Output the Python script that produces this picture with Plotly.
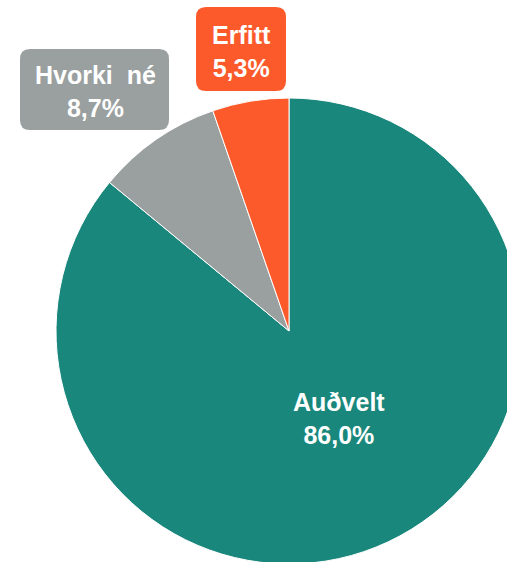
import plotly.graph_objects as go

labels = ["Auðvelt", "Hvorki\u00a0 né", "Erfitt"]
values = [86.0, 8.7, 5.3]
colors = ["#19877B", "#9A9F9F", "#FD5A2B"]

FW, FH = 530, 570
L, T, S = 56, 98, 466  # plot area left, top, size


def px(x):
    return (x - L) / S


def py(y):
    return 1 - (y - T) / S


def fmt(v):
    return f"{v:.1f}".replace(".", ",") + "%"


fig = go.Figure(
    go.Pie(
        labels=labels,
        values=values,
        marker=dict(colors=colors, line=dict(color="white", width=1)),
        sort=False,
        direction="clockwise",
        rotation=0,
        textinfo="none",
        hoverinfo="label+percent",
        showlegend=False,
    )
)


def rounded_box(x0, y0, x1, y1, r):
    return (
        f"M {px(x0 + r)} {py(y0)} L {px(x1 - r)} {py(y0)} "
        f"Q {px(x1)} {py(y0)} {px(x1)} {py(y0 + r)} "
        f"L {px(x1)} {py(y1 - r)} "
        f"Q {px(x1)} {py(y1)} {px(x1 - r)} {py(y1)} "
        f"L {px(x0 + r)} {py(y1)} "
        f"Q {px(x0)} {py(y1)} {px(x0)} {py(y1 - r)} "
        f"L {px(x0)} {py(y0 + r)} "
        f"Q {px(x0)} {py(y0)} {px(x0 + r)} {py(y0)} Z"
    )


boxes = {
    1: (20, 49, 169, 130, (95, 91)),
    2: (196, 7, 286, 91, (241.5, 51)),
}

FONT = dict(family="Liberation Sans, Arial", size=25, color="white")

for i, (x0, y0, x1, y1, (cx, cy)) in boxes.items():
    fig.add_shape(
        type="path",
        xref="paper",
        yref="paper",
        path=rounded_box(x0, y0, x1, y1, 10),
        fillcolor=colors[i],
        line=dict(width=0),
        layer="above",
    )
    fig.add_annotation(
        xref="paper", yref="paper", x=px(cx), y=py(cy),
        text=f"<b>{labels[i]}<br>{fmt(values[i])}</b>",
        showarrow=False, xanchor="center", yanchor="middle",
        font=FONT,
    )

fig.add_annotation(
    xref="paper", yref="paper", x=px(339), y=py(418),
    text=f"<b>{labels[0]}<br>{fmt(values[0])}</b>",
    showarrow=False, xanchor="center", yanchor="middle",
    font=FONT,
)

fig.update_layout(
    width=FW,
    height=FH,
    margin=dict(l=L, r=FW - L - S, t=T, b=FH - T - S, pad=0),
    paper_bgcolor="white",
    plot_bgcolor="white",
)

fig.write_html(
    "out.html",
    config={"displayModeBar": False},
    post_script="document.body.style.margin='0';document.body.style.overflow='hidden';document.documentElement.style.overflow='hidden';",
)
